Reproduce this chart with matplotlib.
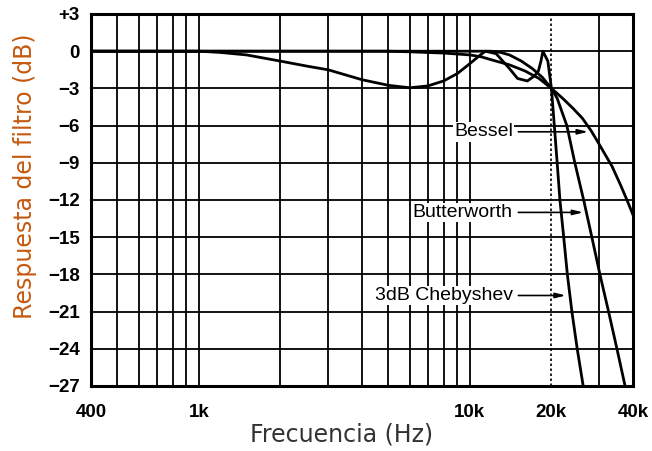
import numpy as np
import matplotlib
matplotlib.use('Agg')
import matplotlib.pyplot as plt

# curves (Hz, dB)
bessel_f = [400, 5000, 6000, 8000, 10000, 11000, 12500, 14000, 16000, 18000, 20000,
            22000, 24000, 26000, 28000, 30000, 33500, 36000, 38000, 40000]
bessel_db = [0, 0, -0.05, -0.15, -0.3, -0.45, -0.8, -1.1, -1.6, -2.2, -3,
             -3.8, -4.6, -5.4, -6.4, -7.5, -9.3, -10.8, -12, -13.2]

butter_f = [400, 12000, 13000, 14000, 15500, 17000, 18500, 20000, 21000, 22800,
            24400, 26300, 28200, 30200, 32500, 34900, 37400]
butter_db = [0, 0, -0.1, -0.3, -0.8, -1.4, -2.1, -3, -3.8, -6,
             -9, -12, -15, -18, -21, -24, -27]

cheby_f = [400, 1000, 1200, 1500, 2000, 2500, 3000, 4000, 5000, 6000, 7000, 8000,
           9000, 10000, 10800, 11400, 12500, 14000, 15000, 16300, 17300, 17900,
           18300, 18600, 19400, 20000, 20500, 21000, 21500, 22200, 22900, 23800,
           24900, 26200]
cheby_db = [0, 0, -0.1, -0.3, -0.8, -1.2, -1.5, -2.3, -2.75, -2.95, -2.8, -2.4,
            -1.8, -1.0, -0.4, 0, -0.2, -1.4, -2.2, -2.4, -2.0, -1.6,
            -0.8, 0, -0.8, -3, -6, -9, -12, -15, -18, -21,
            -24, -27]

xticks = [400, 1000, 10000, 20000, 40000]
xticklabels = ['400', '1k', '10k', '20k', '40k']
yticks = list(range(3, -28, -3))
yticklabels = ['+3' if v > 0 else ('0' if v == 0 else '\u2212%d' % -v) for v in yticks]
grid_f = [500, 600, 700, 800, 900, 1000, 2000, 3000, 4000, 5000, 6000, 7000,
          8000, 9000, 10000, 30000]

labels = ['Bessel', 'Butterworth', '3dB Chebyshev']
label_db = [-6.5, -13.0, -19.7]
arrow_tip_f = [27300, 26200, 22600]

fig = plt.figure(figsize=(6.52, 4.51), dpi=100)
ax = fig.add_axes([91/652, 1 - 386/451, (633 - 91)/652, (386 - 14)/451])
ax.set_xscale('log')
ax.set_xlim(400, 40000)
ax.set_ylim(-27, 3)

for f in grid_f:
    ax.axvline(f, color='black', lw=1.3, zorder=1)
ax.axvline(20000, color='black', lw=1.2, ls=(0, (1.5, 1.5)), zorder=1)
for v in yticks:
    ax.axhline(v, color='black', lw=1.3, zorder=1)

for f, d in [(bessel_f, bessel_db), (butter_f, butter_db), (cheby_f, cheby_db)]:
    ax.plot(f, d, color='black', lw=2.0, zorder=3, solid_joinstyle='round')

for name, d, tip in zip(labels, label_db, arrow_tip_f):
    ax.text(14400, d, name, ha='right', va='center', fontsize=14,
            family='Liberation Sans', zorder=4,
            bbox=dict(facecolor='white', edgecolor='none', pad=1.0))
    ax.annotate('', xy=(tip, d), xytext=(15100, d), zorder=4,
                arrowprops=dict(arrowstyle='-|>,head_length=0.6,head_width=0.15',
                                color='black', lw=1.2, shrinkA=0, shrinkB=0))

ax.set_xticks(xticks)
ax.set_xticklabels(xticklabels)
ax.set_xticks([], minor=True)
ax.set_yticks(yticks)
ax.set_yticklabels(yticklabels)
ax.tick_params(length=0, labelsize=13.5)
ax.tick_params(axis='x', pad=13)
ax.tick_params(axis='y', pad=8)
for lab in ax.get_xticklabels() + ax.get_yticklabels():
    lab.set_family('Liberation Sans')
    lab.set_fontweight('bold')
for s in ax.spines.values():
    s.set_linewidth(2.2)

ax.set_xlabel('Frecuencia (Hz)', family='DejaVu Sans', fontsize=17, color='#333333')
ax.xaxis.set_label_coords(0.463, -0.098)
ax.set_ylabel('Respuesta del filtro (dB)', family='DejaVu Sans', fontsize=17,
              color='#C55A11')
ax.yaxis.set_label_coords(-0.1, 0.565)

fig.savefig('out.png', dpi=100)
